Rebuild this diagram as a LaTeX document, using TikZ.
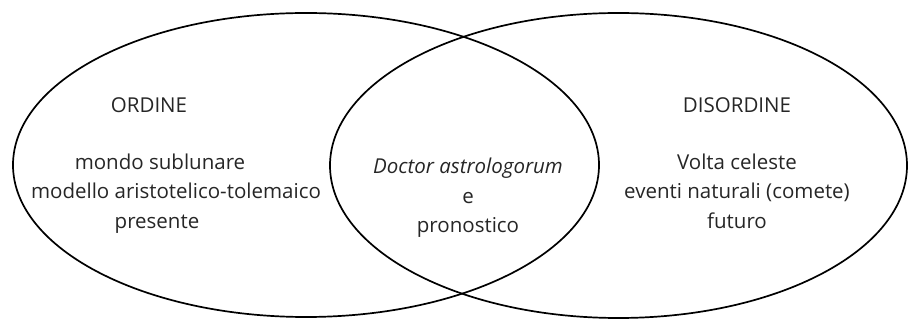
\documentclass[tikz,border=0pt]{standalone}
\usepackage{fontspec}
\setmainfont{Open Sans}
\begin{document}
\begin{tikzpicture}[x=1pt,y=-1pt,
  ring/.style={draw=black,line width=1.7pt},
  label/.style={anchor=base,inner sep=0pt,text=black!85,font=\fontsize{20.5}{24}\selectfont}]
\useasboundingbox (0,0) rectangle (908,320);
% the two overlapping sets
\draw[ring] (306,165) ellipse [x radius=293, y radius=152];
\draw[ring] (618.5,165.5) ellipse [x radius=288.5, y radius=152.5];
% left set
\node[label] (ord)  at (149,113) {ORDINE};
\node[label] (ord1) at (160,169.5) {mondo sublunare};
\node[label] (ord2) at (176,199) {modello aristotelico-tolemaico};
\node[label] (ord3) at (157,228.5) {presente};
% right set
\node[label] (dis)  at (737,113) {DISORDINE};
\node[label] (dis1) at (737,169.5) {Volta celeste};
\node[label] (dis2) at (737,199) {eventi naturali (comete)};
\node[label] (dis3) at (737,228.5) {futuro};
% intersection
\node[label] (mid1) at (468,174) {\itshape Doctor astrologorum};
\node[label] (mid2) at (468,204) {e};
\node[label] (mid3) at (468,233) {pronostico};
\end{tikzpicture}
\end{document}
